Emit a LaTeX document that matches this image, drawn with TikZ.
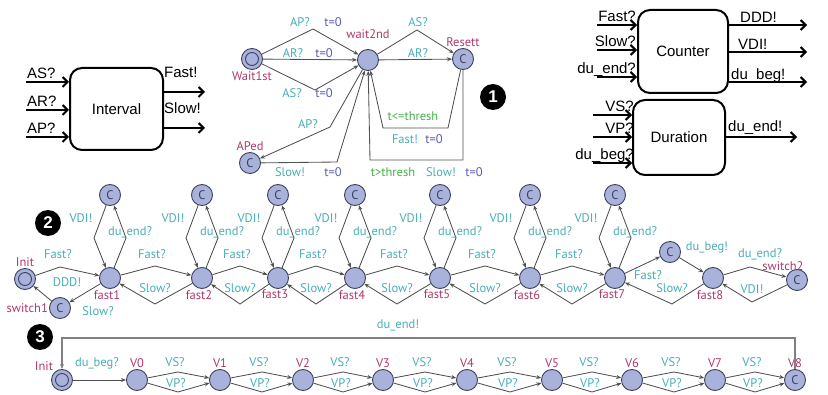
\documentclass[tikz,border=0pt]{standalone}
\usepackage{fontspec}
\setmainfont{Liberation Sans}
\newfontfamily\uppfont{PT Sans}
\usetikzlibrary{arrows.meta}
\definecolor{locfill}{HTML}{A9B2DA}
\definecolor{locline}{HTML}{3C4160}
\definecolor{locname}{HTML}{B0386C}
\definecolor{syncc}{HTML}{46AEB4}
\definecolor{updc}{HTML}{5A5AB4}
\definecolor{guardc}{HTML}{44B048}
\definecolor{edgec}{HTML}{505050}
\newcommand\ufs{\uppfont\fontsize{12.5}{13}\selectfont}
\newcommand\bfs{\fontsize{15}{15}\selectfont}

\begin{document}
\begin{tikzpicture}[x=1pt, y=-1pt,
	loc/.style={circle, draw=locline, fill=locfill, line width=0.9pt, minimum size=21pt, inner sep=0pt},
	comm/.style={loc, font=\ufs, text=locline},
	init/.style={loc, path picture={\draw[locline, line width=0.9pt] (path picture bounding box.center) circle (6.5pt);}},
	tr/.style={draw=edgec, line width=0.85pt, -{Stealth[length=5pt, width=4pt]}},
	nm/.style={text=locname, font=\ufs, inner sep=1pt},
	sy/.style={text=syncc, font=\ufs, inner sep=0pt},
	upd/.style={text=updc, font=\ufs, inner sep=0pt},
	gd/.style={text=guardc, font=\ufs, inner sep=0pt},
	blk/.style={draw, rounded corners=12pt, line width=2pt, font=\bfs},
	sig/.style={line width=2pt, -{Straight Barb[length=5pt, width=10pt]}},
	slbl/.style={font=\bfs, inner sep=0pt},
	badge/.style={circle, fill=black, text=white, font=\bfseries\fontsize{17}{17}\selectfont, minimum size=26pt, inner sep=0pt}]
	\useasboundingbox (0,0) rectangle (828,395);

	% Interval
	\node[blk, minimum width=93pt, minimum height=82pt] (ivl) at (116.5,109) {Interval};
	\foreach \s/\y in {AS/82, AR/110, AP/137} {
		\coordinate (ivl-\s) at (26,\y);
		\draw[sig] (ivl-\s) -- (ivl-\s -| ivl.west);
		\node[slbl, anchor=base west] (ivl-\s-l) at (27,\y-3.5) {\s?};
	}
	\foreach \s/\y in {Fast/92, Slow/128} {
		\coordinate (ivl-\s) at (205,\y);
		\draw[sig] (ivl.east |- ivl-\s) -- (ivl-\s);
		\node[slbl, anchor=base west] (ivl-\s-l) at (164,\y-14) {\s!};
	}

	% Counter
	\node[blk, minimum width=90pt, minimum height=83pt] (cnt) at (683,51.5) {Counter};
	\foreach \s/\t/\y in {fa/Fast?/25, sl/Slow?/50, de/du\_end?/77} {
		\coordinate (cnt-\s) at (597,\y);
		\draw[sig] (cnt-\s) -- (cnt-\s -| cnt.west);
		\node[slbl, anchor=base east] (cnt-\s-l) at (636,\y-3) {\t};
	}
	\foreach \s/\t/\y/\lx in {dd/DDD!/25/740, vd/VDI!/52/738, db/du\_beg!/82/731} {
		\coordinate (cnt-\s) at (807,\y);
		\draw[sig] (cnt.east |- cnt-\s) -- (cnt-\s);
		\node[slbl, anchor=base west] (cnt-\s-l) at (\lx,\y-2.5) {\t};
	}

	% Duration
	\node[blk, minimum width=92pt, minimum height=75pt] (dur) at (679,137.5) {Duration};
	\foreach \s/\t/\y in {vs/VS?/115, vp/VP?/137, db/du\_beg?/163} {
		\coordinate (dur-\s) at (593,\y);
		\draw[sig] (dur-\s) -- (dur-\s -| dur.west);
		\node[slbl, anchor=base east] (dur-\s-l) at (634,\y-3) {\t};
	}
	\coordinate (dur-de) at (797,137);
	\draw[sig] (dur.east |- dur-de) -- (dur-de);
	\node[slbl, anchor=base west] (dur-de-l) at (728,132) {du\_end!};

	% automaton 1
	\node[init, label={[nm]below:Wait1st}] (wait1st) at (252,59) {};
	\node[loc, label={[nm, label distance=9pt]above:wait2nd}] (wait2nd) at (368,60) {};
	\node[comm, label={[nm]above:Resett}] (resett) at (463,59) {C};
	\node[comm, label={[nm]above:APed}] (aped) at (250,163) {C};
	\draw[tr] (wait1st) -- (313,29) -- (wait2nd);
	\draw[tr] (wait1st) -- (wait2nd);
	\draw[tr] (wait1st) -- (315,90) -- (wait2nd);
	\draw[tr] (wait2nd) -- (417,30) -- (resett);
	\draw[tr] (wait2nd) -- (resett);
	\draw[tr] (resett) -- (448,128) -- (383,128) -- (wait2nd);
	\draw[tr] (resett) -- (463,160) -- (370,160) -- (wait2nd);
	\draw[tr] (wait2nd) -- (330,127) -- (aped);
	\draw[tr] (aped) -- (337,162) -- (wait2nd);
	\node[sy] (a1-ap) at (300,22) {AP?};
	\node[upd] (a1-t1) at (333,22) {t=0};
	\node[sy] (a1-ar) at (293,53) {AR?};
	\node[upd] (a1-t2) at (324,53) {t=0};
	\node[sy] (a1-as) at (292,93) {AS?};
	\node[upd] (a1-t3) at (324,93) {t=0};
	\node[sy] (a1-as2) at (418,22) {AS?};
	\node[sy] (a1-ar2) at (418,53) {AR?};
	\node[gd] (a1-le) at (413,116) {t<=thresh};
	\node[sy] (a1-fa) at (405,139) {Fast!};
	\node[upd] (a1-t4) at (434,139) {t=0};
	\node[gd] (a1-gt) at (393,172) {t>thresh};
	\node[sy] (a1-sl) at (441,172) {Slow!};
	\node[upd] (a1-t5) at (474,172) {t=0};
	\node[sy] (a1-ap2) at (308,124) {AP?};
	\node[sy] (a1-sl2) at (290,172) {Slow!};
	\node[upd] (a1-t6) at (333,172) {t=0};
	\node[badge] (b1) at (493,97) {1};

	% automaton 2
	\node[init, label={[nm]above:Init}] (init2) at (25,279) {};
	\node[comm, label={[nm]left:switch1}] (switch1) at (60,308) {C};
	\foreach \i/\x in {1/110, 2/202, 3/278, 4/355, 5/440, 6/530, 7/615, 8/713}
		\node[loc, label={[nm, xshift=-3pt]below:fast\i}] (fast\i) at (\x,278) {};
	\foreach \i/\x in {1/110, 2/202, 3/278, 4/355, 5/440, 6/530, 7/615} {
		\node[comm] (vdi\i) at (\x,195) {C};
		\draw[tr] (fast\i) -- (\x+16,238) -- (vdi\i);
		\draw[tr] (vdi\i) -- (\x-16,238) -- (fast\i);
		\node[sy] (due\i) at (\x+20,232) {du\_end?};
		\node[sy] (vdl\i) at (\x-29,218) {VDI!};
	}
	\foreach \i/\j/\m in {1/2/155, 2/3/240, 3/4/316, 4/5/397, 5/6/485, 6/7/572} {
		\draw[tr] (fast\i) -- (\m,266) -- (fast\j);
		\draw[tr] (fast\j) -- (\m,304) -- (fast\i);
		\node[sy] (fa\i) at (\m-3,254) {Fast?};
		\node[sy] (sl\i) at (\m,288) {Slow?};
	}
	\node[comm] (dubeg) at (670,252) {C};
	\node[comm, label={[nm, anchor=south east]north east:switch2}] (switch2) at (797,280) {C};
	\draw[tr] (init2) -- (60,267) -- (fast1);
	\draw[tr] (fast1) -- (switch1);
	\draw[tr] (switch1) -- (init2);
	\draw[tr] (fast7) -- (dubeg);
	\draw[tr] (dubeg) -- (fast8);
	\draw[tr] (fast8) -- (672,304) -- (fast7);
	\draw[tr] (fast8) -- (750,267) -- (switch2);
	\draw[tr] (switch2) -- (752,302) -- (fast8);
	\node[sy] (fa0) at (58,254) {Fast?};
	\node[sy] (sl0) at (98,311) {Slow?};
	\node[sy] (ddd) at (67,282) {DDD!};
	\node[sy] (fa7) at (648,275) {Fast?};
	\node[sy] (sl7) at (672,288) {Slow?};
	\node[sy] (dbg) at (707,247) {du\_beg!};
	\node[sy] (due8) at (760,254) {du\_end?};
	\node[sy] (vdl8) at (752,289) {VDI!};
	\node[badge] (b2) at (48,223) {2};

	% automaton 3
	\node[init, label={[nm]above left:Init}] (init3) at (62,380) {};
	\foreach \i/\x in {0/137, 1/220, 2/303, 3/383, 4/467, 5/552, 6/632, 7/715}
		\node[loc, label={[nm]above:V\i}] (v\i) at (\x,380) {};
	\node[comm, label={[nm]above:V8}] (v8) at (795,380) {C};
	\draw[tr] (init3) -- (v0);
	\node[sy] (dbq) at (97,363) {du\_beg?};
	\foreach \i/\j/\m in {0/1/178, 1/2/262, 2/3/343, 3/4/425, 4/5/510, 5/6/592, 6/7/674, 7/8/755} {
		\draw[tr] (v\i) -- (\m,372) -- (v\j);
		\draw[tr] (v\i) -- (\m,392) -- (v\j);
		\node[sy] (vs\i) at (\m-3,362) {VS?};
		\node[sy] (vp\i) at (\m-2,383) {VP?};
	}
	\coordinate (ret) at (430,338);
	\draw[tr, draw=gray, line width=1.2pt] (v8) |- (ret) -| (init3);
	\node[sy] (dend) at (398,325) {du\_end!};
	\node[badge] (b3) at (40,337) {3};
\end{tikzpicture}
\end{document}
